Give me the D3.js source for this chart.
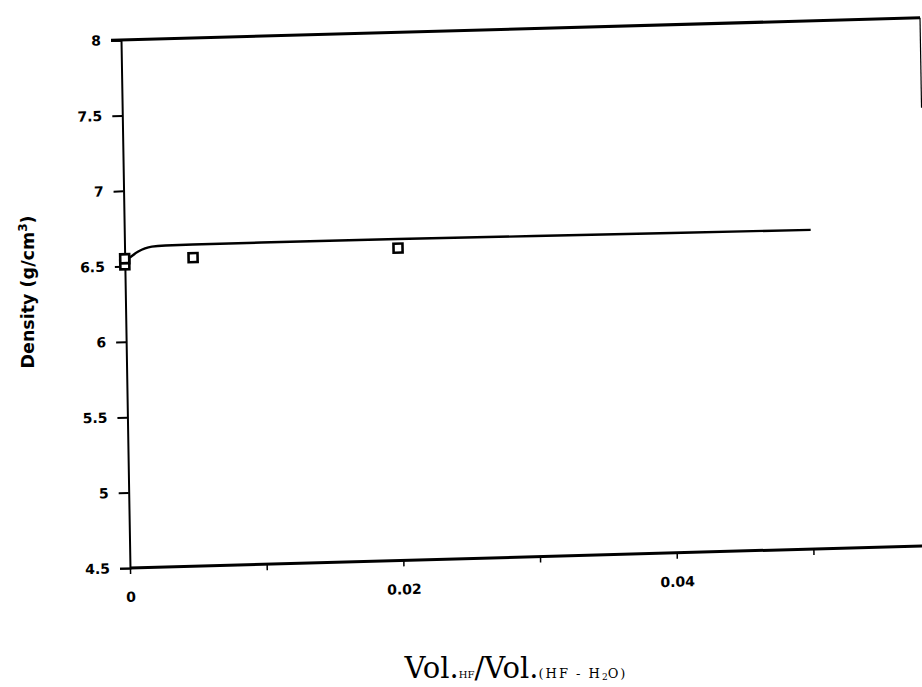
<!DOCTYPE html>
<html>
<head>
<meta charset="utf-8">
<script src="https://cdn.jsdelivr.net/npm/d3@7"></script>
<style>
  body { margin: 0; background: #fff; }
  .tick-label { font-family: "DejaVu Sans", sans-serif; font-weight: bold; font-size: 14px; }
</style>
</head>
<body>
<div id="vis"></div>
<script>
// data
var curveX = [0, 0.0005, 0.001, 0.0015, 0.002, 0.003, 0.005, 0.01, 0.02, 0.03, 0.04, 0.0502];
var curveY = [6.53, 6.565, 6.595, 6.615, 6.625, 6.63, 6.632, 6.632, 6.63, 6.625, 6.62, 6.615];
var pointX = [0, 0, 0.005, 0.02];
var pointY = [6.51, 6.55, 6.545, 6.57];
var yTicks = [4.5, 5, 5.5, 6, 6.5, 7, 7.5, 8];
var yTickLabels = ["4.5", "5", "5.5", "6", "6.5", "7", "7.5", "8"];
var xTicks = [0, 0.01, 0.02, 0.03, 0.04, 0.05];
var xTickLabels = ["0", "", "0.02", "", "0.04", ""];

var width = 790, height = 528, frameRight = 799;

var svg = d3.select("#vis").append("svg")
  .attr("width", 922)
  .attr("height", 687);

// the scan is slightly tilted/skewed, so the plot frame gets a small matrix
var g = svg.append("g")
  .attr("transform", "matrix(1,-0.0278,0.017,1,121,40)");

var x = d3.scaleLinear().domain([0, 0.0578]).range([0, width]);
var y = d3.scaleLinear().domain([4.5, 8]).range([height, 0]);

// frame: top and bottom heavy lines, thin right edge
g.append("line")
  .attr("x1", -10).attr("x2", frameRight).attr("y1", 0).attr("y2", 0)
  .attr("stroke", "#000").attr("stroke-width", 3);
g.append("line")
  .attr("x1", 0).attr("x2", frameRight + 20).attr("y1", height).attr("y2", height)
  .attr("stroke", "#000").attr("stroke-width", 3);
g.append("line")
  .attr("x1", frameRight).attr("x2", frameRight).attr("y1", 0).attr("y2", 90)
  .attr("stroke", "#000").attr("stroke-width", 1.2);

// y axis
var yAxis = g.append("g")
  .call(d3.axisLeft(y).tickValues(yTicks).tickSize(10).tickFormat(function(d, i) { return yTickLabels[i]; }));
yAxis.select(".domain").attr("stroke-width", 2);
yAxis.selectAll(".tick line").attr("stroke-width", 2);
yAxis.selectAll("text").attr("class", "tick-label").attr("x", -20).attr("fill", "#000");

// x axis
var xAxis = g.append("g")
  .attr("transform", "translate(0," + height + ")")
  .call(d3.axisBottom(x).tickValues(xTicks).tickSize(6).tickFormat(function(d, i) { return xTickLabels[i]; }));
xAxis.select(".domain").remove();
xAxis.selectAll(".tick line").attr("stroke-width", 1.5);
xAxis.selectAll("text").attr("class", "tick-label").attr("y", 24).attr("fill", "#000");

// fitted curve
var line = d3.line()
  .x(function(d) { return x(d[0]); })
  .y(function(d) { return y(d[1]); })
  .curve(d3.curveMonotoneX);

g.append("path")
  .datum(d3.zip(curveX, curveY))
  .attr("d", line)
  .attr("fill", "none")
  .attr("stroke", "#000")
  .attr("stroke-width", 2.4);

// measured points
g.selectAll(".pt")
  .data(d3.zip(pointX, pointY))
  .enter().append("rect")
  .attr("class", "pt")
  .attr("x", function(d) { return x(d[0]) - 4.5; })
  .attr("y", function(d) { return y(d[1]) - 4.5; })
  .attr("width", 9)
  .attr("height", 9)
  .attr("fill", "#fff")
  .attr("stroke", "#000")
  .attr("stroke-width", 2.6);

// axis titles
var yTitle = svg.append("text")
  .attr("transform", "translate(34,292) rotate(-90)")
  .attr("text-anchor", "middle")
  .attr("font-family", "DejaVu Sans, sans-serif")
  .attr("font-weight", "bold")
  .attr("font-size", 17.5);
yTitle.append("tspan").text("Density  (g/cm");
yTitle.append("tspan").attr("dy", -7).attr("font-size", 12).text("3");
yTitle.append("tspan").attr("dy", 7).text(")");

var xTitle = svg.append("text")
  .attr("x", 516).attr("y", 678)
  .attr("text-anchor", "middle")
  .attr("font-family", "DejaVu Serif, serif")
  .attr("fill", "#000");
xTitle.append("tspan").attr("font-size", 29).text("Vol.");
xTitle.append("tspan").attr("font-size", 10).text("HF");
xTitle.append("tspan").attr("font-size", 29).text("/Vol.");
xTitle.append("tspan").attr("font-size", 13).attr("letter-spacing", 2).text("(HF - H");
xTitle.append("tspan").attr("font-size", 9).attr("dy", 2).text("2");
xTitle.append("tspan").attr("font-size", 13).attr("dy", -2).attr("letter-spacing", 2).text("O)");
</script>
</body>
</html>
